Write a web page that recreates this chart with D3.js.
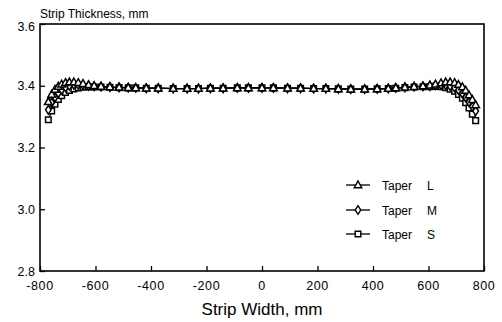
<!DOCTYPE html>
<html>
<head>
<meta charset="utf-8">
<script src="https://cdn.jsdelivr.net/npm/d3@7"></script>
<style>
  html, body { margin: 0; padding: 0; background: #fff; }
  svg { display: block; }
  text { fill: #000; }
</style>
</head>
<body>
<svg id="chart" width="502" height="322"></svg>
<script>
// Measurement positions across the strip width (mm)
const widthPos = [
  -770, -758, -746, -734, -722, -708, -694, -678, -662, -645, -625, -605,
  -580, -548, -515, -482, -455, -417, -374, -320, -270, -229, -186, -140, -89, -49,
  0, 41, 92, 139, 186, 230, 275, 320, 370, 415, 455, 482, 515, 548, 580,
  605, 625, 645, 662, 678, 694, 708, 722, 734, 746, 758, 770
];

// Strip thickness (mm) for each taper
const taperL = [
  3.348, 3.372, 3.388, 3.398, 3.405, 3.410, 3.412, 3.412, 3.410, 3.407, 3.403, 3.400,
  3.398, 3.396, 3.395, 3.394, 3.393, 3.392, 3.392, 3.391, 3.391, 3.391, 3.392, 3.392, 3.393, 3.393,
  3.393, 3.393, 3.392, 3.392, 3.391, 3.391, 3.390, 3.389, 3.389, 3.390, 3.391, 3.393, 3.395, 3.397, 3.399,
  3.402, 3.405, 3.409, 3.412, 3.412, 3.410, 3.404, 3.396, 3.385, 3.370, 3.355, 3.338
];
const taperM = [
  3.322, 3.345, 3.362, 3.376, 3.387, 3.395, 3.400, 3.403, 3.403, 3.402, 3.400, 3.398,
  3.397, 3.396, 3.395, 3.394, 3.393, 3.392, 3.392, 3.391, 3.391, 3.391, 3.392, 3.392, 3.393, 3.393,
  3.393, 3.393, 3.392, 3.392, 3.391, 3.391, 3.390, 3.389, 3.389, 3.390, 3.391, 3.393, 3.395, 3.397, 3.398,
  3.399, 3.401, 3.402, 3.402, 3.399, 3.394, 3.386, 3.375, 3.362, 3.347, 3.332, 3.318
];
const taperS = [
  3.290, 3.318, 3.340, 3.356, 3.368, 3.378, 3.385, 3.390, 3.393, 3.395, 3.396, 3.396,
  3.396, 3.395, 3.394, 3.393, 3.393, 3.392, 3.392, 3.391, 3.391, 3.391, 3.392, 3.392, 3.393, 3.393,
  3.393, 3.393, 3.392, 3.392, 3.391, 3.391, 3.390, 3.389, 3.389, 3.390, 3.391, 3.392, 3.394, 3.396, 3.397,
  3.397, 3.398, 3.397, 3.394, 3.389, 3.382, 3.372, 3.360, 3.345, 3.328, 3.308, 3.287
];

const seriesNames = ["Taper", "Taper", "Taper"];
const seriesKeys = ["L", "M", "S"];
const xTicks = [-800, -600, -400, -200, 0, 200, 400, 600, 800];
const yTicks = [2.8, 3.0, 3.2, 3.4, 3.6];
const xTitle = "Strip Width, mm";
const yTitle = "Strip Thickness, mm";

const svg = d3.select("#chart");
const frame = { left: 40, right: 484, top: 24, bottom: 271 };

const x = d3.scaleLinear().domain([-800, 800]).range([frame.left, frame.right]);
const y = d3.scaleLinear().domain([2.8, 3.6]).range([frame.bottom, frame.top]);

const font = "'Liberation Sans', Arial, sans-serif";

// Plot frame
svg.append("rect")
  .attr("x", frame.left).attr("y", frame.top)
  .attr("width", frame.right - frame.left)
  .attr("height", frame.bottom - frame.top)
  .attr("fill", "none").attr("stroke", "#000").attr("stroke-width", 1.6);

// Axes with inward ticks
const xAxis = d3.axisTop(x).tickValues(xTicks).tickSize(5).tickFormat("");
svg.append("g").attr("transform", `translate(0,${frame.bottom})`).call(xAxis)
  .call(g => g.select(".domain").remove())
  .call(g => g.selectAll("line").attr("stroke", "#000").attr("stroke-width", 1.3));

const yAxis = d3.axisRight(y).tickValues(yTicks).tickSize(5).tickFormat("");
svg.append("g").attr("transform", `translate(${frame.left},0)`).call(yAxis)
  .call(g => g.select(".domain").remove())
  .call(g => g.selectAll("line").attr("stroke", "#000").attr("stroke-width", 1.3));

// Tick labels
svg.append("g").selectAll("text").data(xTicks).join("text")
  .attr("x", d => x(d)).attr("y", 290)
  .attr("text-anchor", "middle")
  .attr("font-family", font).attr("font-size", 12.5)
  .attr("letter-spacing", 0.6)
  .text(d => d);

svg.append("g").selectAll("text").data(yTicks).join("text")
  .attr("x", 35).attr("y", d => y(d) + (d === 3.6 ? 7 : 4.5))
  .attr("text-anchor", "end")
  .attr("font-family", font).attr("font-size", 12.5)
  .text(d => d3.format(".1f")(d));

// Titles
svg.append("text").attr("x", 40).attr("y", 18)
  .attr("font-family", font).attr("font-size", 12)
  .text(yTitle);

svg.append("text").attr("x", 262).attr("y", 315)
  .attr("text-anchor", "middle")
  .attr("font-family", font).attr("font-size", 17)
  .text(xTitle);

// Marker shapes
const triPath = "M0,-4L3.8,2.8L-3.8,2.8Z";
const diaPath = "M0,-4.3L2.8,0L0,4.3L-2.8,0Z";
const sqPath = "M-2.8,-2.8H2.8V2.8H-2.8Z";
const shapes = [triPath, diaPath, sqPath];
const allSeries = [taperL, taperM, taperS];

const line = d3.line().x(d => x(d[0])).y(d => y(d[1]));

// Draw series (square first, triangle last)
[2, 1, 0].forEach(i => {
  const pts = widthPos.map((w, j) => [w, allSeries[i][j]]);
  const g = svg.append("g");
  g.append("path").datum(pts)
    .attr("d", line)
    .attr("fill", "none").attr("stroke", "#000").attr("stroke-width", 1.2);
  g.selectAll("path.m").data(pts).join("path")
    .attr("class", "m")
    .attr("d", shapes[i])
    .attr("transform", d => `translate(${x(d[0])},${y(d[1])})`)
    .attr("fill", "#fff").attr("stroke", "#000").attr("stroke-width", 1.5);
});

// Legend
const legY = [185, 210, 234];
const leg = svg.append("g");
seriesKeys.forEach((k, i) => {
  leg.append("line")
    .attr("x1", 346).attr("x2", 370)
    .attr("y1", legY[i]).attr("y2", legY[i])
    .attr("stroke", "#000").attr("stroke-width", 1.3);
  leg.append("path").attr("d", shapes[i])
    .attr("transform", `translate(358,${legY[i]})`)
    .attr("fill", "#fff").attr("stroke", "#000").attr("stroke-width", 1.4);
  leg.append("text").attr("x", 382).attr("y", legY[i] + 4.5)
    .attr("font-family", font).attr("font-size", 12)
    .text(seriesNames[i]);
  leg.append("text").attr("x", 427).attr("y", legY[i] + 4.5)
    .attr("font-family", font).attr("font-size", 12)
    .text(k);
});
</script>
</body>
</html>
